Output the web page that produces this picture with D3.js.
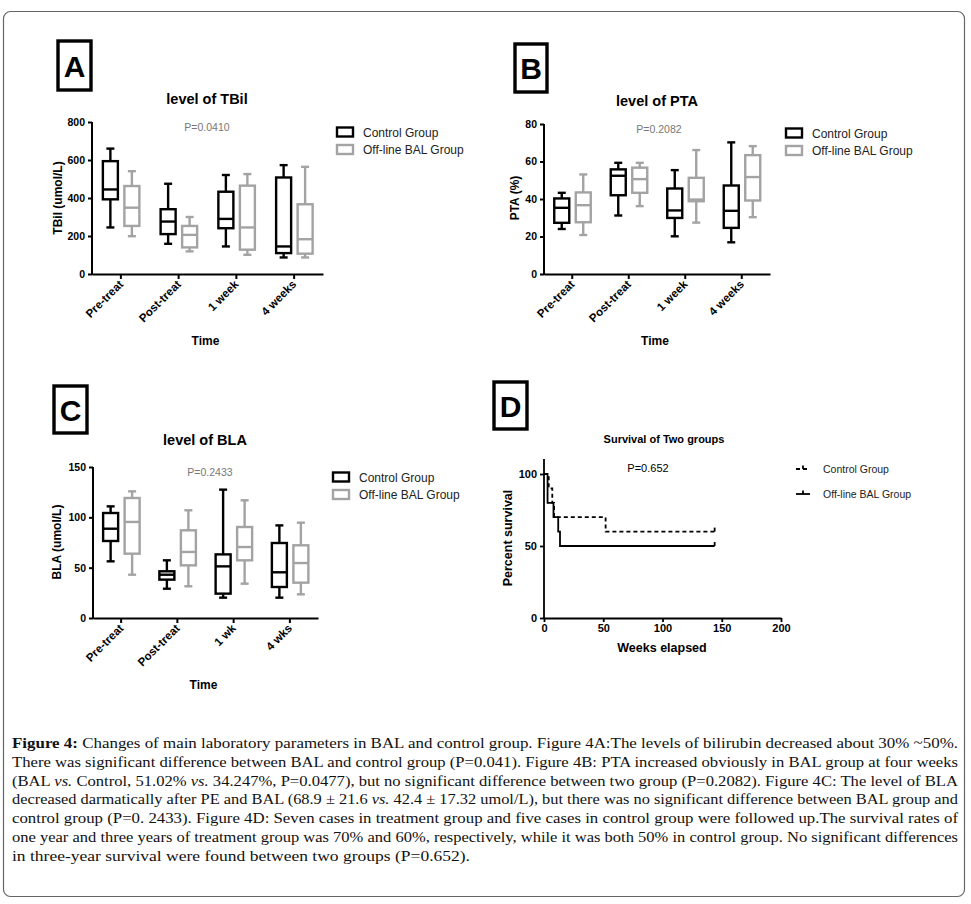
<!DOCTYPE html>
<html>
<head>
<meta charset="utf-8">
<script src="https://cdn.jsdelivr.net/npm/d3@7"></script>
<style>
  body { margin: 0; background: #fff; }
  svg text { font-family: Arial, "Liberation Sans", sans-serif; }
  .caption text { font-family: "Liberation Serif", "DejaVu Serif", serif; }
</style>
</head>
<body>
<svg id="fig" width="971" height="904"></svg>
<script>
// Box plot data: [min, q1, median, q3, max] per time point
const groups = ['Control Group', 'Off-line BAL Group'];

const tbilCategories = ['Pre-treat', 'Post-treat', '1 week', '4 weeks'];
const tbilControl = [[245, 393, 445, 594, 660], [159, 210, 276, 341, 475], [145, 241, 290, 433, 521], [87, 110, 145, 508, 573]];
const tbilBAL = [[199, 253, 349, 463, 541], [119, 140, 206, 253, 300], [101, 128, 245, 465, 526], [87, 107, 183, 367, 564]];

const ptaCategories = ['Pre-treat', 'Post-treat', '1 week', '4 weeks'];
const ptaControl = [[24, 27.3, 35.3, 40.3, 43.3], [31.2, 42, 52.4, 55.8, 59.3], [20.1, 29.9, 33.9, 45.6, 55.4], [16.9, 24.6, 33.7, 47.2, 70.2]];
const ptaBAL = [[20.8, 27.6, 36.7, 43.5, 53.1], [36.2, 43.3, 50.6, 56.7, 59.3], [27.4, 38.8, 39.7, 51.3, 66.1], [30.3, 39.2, 51.7, 63.4, 68.2]];

const blaCategories = ['Pre-treat', 'Post-treat', '1 wk', '4 wks'];
const blaControl = [[56.3, 76.5, 88.7, 104.3, 110.9], [29.1, 38.1, 43, 46.4, 57.3], [20.2, 24.2, 51.3, 63.2, 127.5], [20.2, 30.8, 45.4, 74.5, 92]];
const blaBAL = [[43, 63.9, 95.4, 119.2, 125.8], [31.5, 52.3, 65.6, 87.1, 107], [34.1, 57.3, 70.5, 90.4, 116.9], [23.5, 35.1, 54.6, 72.2, 94.7]];

// Kaplan-Meier steps: [weeks, percent]
const survivalControl = [[0, 100], [4, 90], [7, 80], [8.5, 70], [52, 60], [144, 60]];
const survivalBAL = [[0, 100], [3, 80], [8, 70], [12, 60], [13.5, 50], [144, 50]];

const captionLines = [
  'Changes of main laboratory parameters in BAL and control group. Figure 4A:The levels of bilirubin decreased about 30% ~50%.',
  'There was significant difference between BAL and control group (P=0.041). Figure 4B: PTA increased obviously in BAL group at four weeks',
  '(BAL |vs.| Control, 51.02% |vs.| 34.247%, P=0.0477), but no significant difference between two group (P=0.2082). Figure 4C: The level of BLA',
  'decreased darmatically after PE and BAL (68.9 ± 21.6 |vs.| 42.4 ± 17.32 umol/L), but there was no significant difference between BAL group and',
  'control group (P=0. 2433). Figure 4D: Seven cases in treatment group and five cases in control group were followed up.The survival rates of',
  'one year and three years of treatment group was 70% and 60%, respectively, while it was both 50% in control group. No significant differences',
  'in three-year survival were found between two groups (P=0.652).'
];

const svg = d3.select('#fig');
const colors = ['#000', '#a3a3a3'];

// outer frame
svg.append('rect')
  .attr('x', 3.5).attr('y', 11.5).attr('width', 961).attr('height', 885)
  .attr('rx', 7).attr('fill', 'none').attr('stroke', '#666').attr('stroke-width', 1.2);

function letterBox(x, y, w, h, letter) {
  svg.append('rect').attr('x', x).attr('y', y).attr('width', w).attr('height', h)
    .attr('fill', 'none').attr('stroke', '#000').attr('stroke-width', 3.4);
  svg.append('text').attr('x', x + w / 2).attr('y', y + h / 2 + 11)
    .attr('text-anchor', 'middle').attr('font-size', 30).attr('font-weight', 'bold')
    .text(letter);
}

function boxPanel(cfg) {
  const g = svg.append('g');
  const x = d3.scaleBand().domain(cfg.categories).range([cfg.left, cfg.right]);
  const y = d3.scaleLinear().domain([0, cfg.max]).range([cfg.bottom, cfg.top]);

  letterBox(...cfg.letter, cfg.letterText);

  g.append('text').attr('x', cfg.titleX).attr('y', cfg.titleY)
    .attr('text-anchor', 'middle').attr('font-size', 14.5).attr('font-weight', 'bold')
    .text(cfg.title);

  // axes
  const yAxis = g.append('g').attr('transform', `translate(${cfg.left},0)`)
    .call(d3.axisLeft(y).tickValues(cfg.ticks).tickSize(4).tickPadding(3).tickSizeOuter(0));
  const xAxis = g.append('g').attr('transform', `translate(0,${cfg.bottom})`)
    .call(d3.axisBottom(x).tickSize(5).tickSizeOuter(0).tickFormat(''));
  [yAxis, xAxis].forEach(a => {
    a.select('.domain').attr('stroke-width', 2);
    a.selectAll('.tick line').attr('stroke-width', 2);
    a.selectAll('.tick text').attr('font-size', 10.5).attr('font-weight', 'bold').attr('fill', '#000');
  });
  yAxis.select('.domain').attr('d', `M0,${cfg.bottom + 1}V${cfg.top}`);

  g.selectAll('.xlab').data(cfg.categories).join('text')
    .attr('class', 'xlab')
    .attr('transform', d => `translate(${x(d) + x.bandwidth() / 2 + 3},${cfg.bottom + 11}) rotate(-45)`)
    .attr('text-anchor', 'end').attr('font-size', 11.5).attr('font-weight', 'bold')
    .text(d => d);

  g.append('text').attr('x', (cfg.left + cfg.right) / 2 - 2).attr('y', cfg.bottom + 71)
    .attr('text-anchor', 'middle').attr('font-size', 12).attr('font-weight', 'bold').text('Time');

  g.append('text')
    .attr('transform', `translate(${cfg.yTitleX},${cfg.yTitleY}) rotate(-90)`)
    .attr('text-anchor', 'middle').attr('font-size', 12).attr('font-weight', 'bold')
    .text(cfg.yTitle);

  g.append('text').attr('x', cfg.pX).attr('y', cfg.top + 9)
    .attr('text-anchor', 'middle').attr('font-size', 10.5).attr('fill', '#777')
    .text(cfg.p);

  // boxes
  const offsets = [-10.5, 11];
  const bw = 15, cw = 8;
  [cfg.control, cfg.bal].forEach((series, si) => {
    const bg = g.append('g').attr('stroke', colors[si]).attr('stroke-width', 2.4).attr('fill', 'none');
    series.forEach((s, i) => {
      const cx = x(cfg.categories[i]) + x.bandwidth() / 2 + offsets[si];
      const [mn, q1, md, q3, mx] = s;
      bg.append('line').attr('x1', cx).attr('x2', cx).attr('y1', y(mx)).attr('y2', y(q3));
      bg.append('line').attr('x1', cx).attr('x2', cx).attr('y1', y(q1)).attr('y2', y(mn));
      bg.append('line').attr('x1', cx - cw / 2).attr('x2', cx + cw / 2).attr('y1', y(mx)).attr('y2', y(mx));
      bg.append('line').attr('x1', cx - cw / 2).attr('x2', cx + cw / 2).attr('y1', y(mn)).attr('y2', y(mn));
      bg.append('rect').attr('x', cx - bw / 2).attr('y', y(q3)).attr('width', bw).attr('height', y(q1) - y(q3));
      bg.append('line').attr('x1', cx - bw / 2).attr('x2', cx + bw / 2).attr('y1', y(md)).attr('y2', y(md));
    });
  });

  // legend
  groups.forEach((name, i) => {
    const ly = cfg.legendY + i * 17.5;
    g.append('rect').attr('x', cfg.legendX).attr('y', ly - 4.5).attr('width', 16).attr('height', 9)
      .attr('fill', 'none').attr('stroke', colors[i]).attr('stroke-width', 2.4);
    g.append('text').attr('x', cfg.legendX + 26).attr('y', ly + 4.5)
      .attr('font-size', 12).attr('fill', '#222').text(name);
  });
}

boxPanel({
  categories: tbilCategories, control: tbilControl, bal: tbilBAL,
  left: 92, right: 323, top: 122, bottom: 274, max: 800, ticks: [0, 200, 400, 600, 800],
  letter: [58, 41, 33, 49], letterText: 'A',
  title: 'level of TBil', titleX: 207, titleY: 104,
  yTitle: 'TBil (umol/L)', yTitleX: 62, yTitleY: 198,
  p: 'P=0.0410', pX: 207, legendX: 337, legendY: 132
});

boxPanel({
  categories: ptaCategories, control: ptaControl, bal: ptaBAL,
  left: 544, right: 770, top: 124, bottom: 274, max: 80, ticks: [0, 20, 40, 60, 80],
  letter: [515, 44, 32, 48], letterText: 'B',
  title: 'level of PTA', titleX: 657, titleY: 106,
  yTitle: 'PTA (%)', yTitleX: 519, yTitleY: 198,
  p: 'P=0.2082', pX: 659, legendX: 786, legendY: 133
});

boxPanel({
  categories: blaCategories, control: blaControl, bal: blaBAL,
  left: 93, right: 318, top: 467, bottom: 618, max: 150, ticks: [0, 50, 100, 150],
  letter: [54, 386, 33, 47], letterText: 'C',
  title: 'level of BLA', titleX: 205, titleY: 445,
  yTitle: 'BLA (umol/L)', yTitleX: 61, yTitleY: 542,
  p: 'P=0.2433', pX: 210, legendX: 333, legendY: 477
});

// Panel D: survival
(function () {
  const g = svg.append('g');
  const left = 544, right = 781, top = 459, bottom = 618;
  const x = d3.scaleLinear().domain([0, 200]).range([left, right]);
  const y = d3.scaleLinear().domain([0, 100]).range([bottom, 474]);

  letterBox(494, 382, 33, 47, 'D');

  g.append('text').attr('x', 664).attr('y', 443).attr('text-anchor', 'middle')
    .attr('font-size', 11).attr('font-weight', 'bold').text('Survival of Two groups');

  const yAxis = g.append('g').attr('transform', `translate(${left},0)`)
    .call(d3.axisLeft(y).tickValues([0, 50, 100]).tickSize(4).tickPadding(3).tickSizeOuter(0));
  const xAxis = g.append('g').attr('transform', `translate(0,${bottom})`)
    .call(d3.axisBottom(x).tickValues([0, 50, 100, 150, 200]).tickSize(4).tickPadding(2).tickSizeOuter(0));
  [yAxis, xAxis].forEach(a => {
    a.select('.domain').attr('stroke-width', 1.8);
    a.selectAll('.tick line').attr('stroke-width', 1.8);
    a.selectAll('.tick text').attr('font-size', 11).attr('font-weight', 'bold').attr('fill', '#000');
  });
  yAxis.select('.domain').attr('d', `M0,${bottom + 1}V${top}`);

  g.append('text').attr('x', 662).attr('y', 652).attr('text-anchor', 'middle')
    .attr('font-size', 12.5).attr('font-weight', 'bold').text('Weeks elapsed');
  g.append('text').attr('transform', 'translate(512,538) rotate(-90)')
    .attr('text-anchor', 'middle').attr('font-size', 12.5).attr('font-weight', 'bold').text('Percent survival');
  g.append('text').attr('x', 648).attr('y', 472).attr('text-anchor', 'middle')
    .attr('font-size', 11).text('P=0.652');

  const line = d3.line().x(d => x(d[0])).y(d => y(d[1])).curve(d3.curveStepAfter);
  g.append('path').datum(survivalControl).attr('d', line).attr('fill', 'none')
    .attr('stroke', '#000').attr('stroke-width', 1.8).attr('stroke-dasharray', '4,3');
  g.append('path').datum(survivalBAL).attr('d', line).attr('fill', 'none')
    .attr('stroke', '#000').attr('stroke-width', 1.8);
  // censor ticks at last follow-up
  [survivalControl, survivalBAL].forEach(s => {
    const last = s[s.length - 1];
    g.append('line').attr('x1', x(last[0])).attr('x2', x(last[0]))
      .attr('y1', y(last[1]) - 4).attr('y2', y(last[1]))
      .attr('stroke', '#000').attr('stroke-width', 1.8);
  });

  // legend
  const lg = [{ name: 'Control Group', dash: '4,3', y: 469 }, { name: 'Off-line BAL Group', dash: null, y: 494 }];
  lg.forEach(d => {
    g.append('line').attr('x1', 796).attr('x2', 810).attr('y1', d.y).attr('y2', d.y)
      .attr('stroke', '#000').attr('stroke-width', 1.8).attr('stroke-dasharray', d.dash);
    g.append('line').attr('x1', 803).attr('x2', 803).attr('y1', d.y - 3.5).attr('y2', d.y)
      .attr('stroke', '#000').attr('stroke-width', 1.8);
    g.append('text').attr('x', 823).attr('y', d.y + 4).attr('font-size', 10.5).attr('fill', '#222').text(d.name);
  });
})();

// caption
const cap = svg.append('g').attr('class', 'caption');
const capWidths = [946, 946, 946, 946, 946, 946, 458];
captionLines.forEach((ln, i) => {
  const t = cap.append('text').attr('x', 12).attr('y', 748 + i * 18.8)
    .attr('font-size', 15.2).attr('fill', '#111')
    .attr('textLength', capWidths[i]).attr('lengthAdjust', 'spacingAndGlyphs');
  if (i === 0) t.append('tspan').attr('font-weight', 'bold').text('Figure 4: ');
  ln.split('|').forEach((part, k) => {
    t.append('tspan').attr('font-style', k % 2 ? 'italic' : null).text(part);
  });
});
</script>
</body>
</html>
